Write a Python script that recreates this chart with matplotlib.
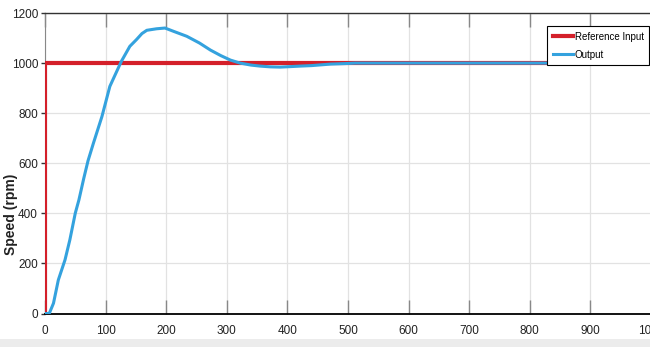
import matplotlib
matplotlib.use("Agg")
import matplotlib.pyplot as plt
from matplotlib.patches import Rectangle

# Data
ref_t = [0, 0, 1000]
ref_y = [0, 1000, 1000]
out_t = [0, 7, 14, 22, 33, 41, 50, 56, 64, 71, 80, 94, 107, 118, 126, 140, 151, 160, 168,
         184, 198, 212, 234, 255, 273, 290, 306, 322, 340, 355, 372, 388, 405, 421, 440,
         471, 495, 512, 1000]
out_y = [0, 0, 41, 134, 214, 294, 401, 454, 540, 610, 681, 787, 907, 965, 1007, 1067, 1094,
         1118, 1131, 1137, 1140, 1127, 1107, 1080, 1052, 1030, 1012, 1000, 992, 988, 985, 984,
         986, 988, 990, 996, 998, 1000, 1000]
xticks = [0, 100, 200, 300, 400, 500, 600, 700, 800, 900, 1000]
yticks = [0, 200, 400, 600, 800, 1000, 1200]
labels = ["Reference Input", "Output"]
ylabel = "Speed (rpm)"

plt.rcParams['font.family'] = ['Liberation Sans Narrow', 'Liberation Sans', 'DejaVu Sans']

fig = plt.figure(figsize=(6.5, 3.47), dpi=100)
fig.patches.append(Rectangle((0, 0), 1, 8 / 347, transform=fig.transFigure,
                             facecolor='#ececec', edgecolor='none', zorder=0))
ax = fig.add_axes([45 / 650, 0.0965, 606 / 650, 0.866])

ax.plot(ref_t, ref_y, color='#d4202a', lw=3.0, label=labels[0], zorder=3)
ax.plot(out_t, out_y, color='#34a2de', lw=2.2, label=labels[1], zorder=4)

ax.set_xlim(0, 1000)
ax.set_ylim(0, 1200)
ax.set_xticks(xticks)
ax.set_yticks(yticks)
ax.set_xticklabels([str(v) for v in xticks], fontsize=8.5)
ax.set_yticklabels([str(v) for v in yticks], fontsize=8.5)
ax.grid(True, color='#e2e2e2', lw=0.9)
ax.set_axisbelow(True)

ax.tick_params(axis='x', direction='in', length=10, width=1, color='#888888',
               top=True, bottom=True, pad=8, labelcolor='#222222')
ax.tick_params(axis='y', direction='out', length=3, width=1, color='#333333',
               left=True, right=False, pad=2, labelcolor='#222222')

ax.spines['bottom'].set_color('black')
ax.spines['bottom'].set_linewidth(1.3)
ax.spines['top'].set_color('#333333')
ax.spines['top'].set_linewidth(1.0)
ax.spines['left'].set_color('#888888')
ax.spines['right'].set_visible(False)

ax.set_ylabel(ylabel, fontsize=10, fontweight='bold', family=['Liberation Sans', 'DejaVu Sans'],
              color='#222222')
ax.yaxis.set_label_coords(-0.045, 0.33)

leg = ax.legend(loc='upper right', bbox_to_anchor=(0.9975, 0.957), fontsize=7,
                frameon=True, fancybox=False, edgecolor='black', framealpha=1,
                handlelength=2.0, handletextpad=0.2, borderpad=0.6, labelspacing=0.8,
                borderaxespad=0)
leg.get_frame().set_linewidth(0.8)

fig.savefig('out.png', dpi=100)
